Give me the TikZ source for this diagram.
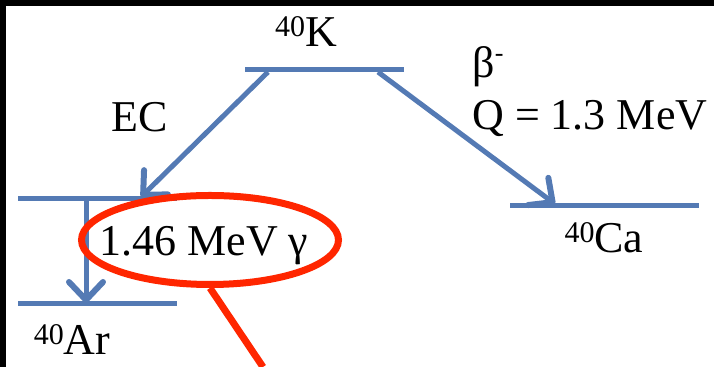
\documentclass[tikz,border=0pt]{standalone}
\usepackage{fontspec}
\setmainfont{Liberation Serif}
\usepackage{tikz}
\usetikzlibrary{positioning, arrows.meta, shapes.geometric}

\definecolor{levelblue}{RGB}{84,122,180}
\definecolor{ringred}{RGB}{255,38,0}

\newcommand{\nuc}[2]{\raisebox{5pt}{\fontsize{15}{15}\selectfont #1}#2}

\begin{document}
\begin{tikzpicture}[
    x=0.5pt, y=-0.5pt,
    level/.style={draw=levelblue, line width=2.5pt},
    trans/.style={draw=levelblue, line width=2.5pt,
                  -{Straight Barb[length=9pt, width=17pt, line width=3pt, round]}},
    lbl/.style={font=\rmfamily\fontsize{22}{26}\selectfont, inner sep=0pt, anchor=base},
    ring/.style={draw=ringred, ellipse, line width=3.5pt, inner sep=0pt,
                 minimum width=128.5pt, minimum height=44.5pt},
    pointer/.style={draw=ringred, line width=3.5pt},
]
\useasboundingbox (0,0) rectangle (714,367);
\fill[black] (0,0) rectangle (714,6);
\fill[black] (0,0) rectangle (6,367);

% --- Levels ---
\coordinate (Kl) at (245,70);   \coordinate (Kr) at (404,70);
\coordinate (Xl) at (18,199);   \coordinate (Xr) at (177,199);
\coordinate (Gl) at (18,304);   \coordinate (Gr) at (177,304);
\coordinate (Cl) at (510,206);  \coordinate (Cr) at (699,206);
\draw[level] (Kl) -- (Kr);
\draw[level] (Xl) -- (Xr);
\draw[level] (Gl) -- (Gr);
\draw[level] (Cl) -- (Cr);

% --- Labels ---
\node[lbl] (k40)  at (306,47)  {\nuc{40}{K}};
\node[lbl] (ar40) at (72,355)  {\nuc{40}{Ar}};
\node[lbl] (ca40) at (604,253) {\nuc{40}{Ca}};
\node[lbl] (ec)   at (140,132) {EC};
\node[lbl, anchor=base west] (beta) at (472,78)
  {β\raisebox{8pt}{\fontsize{13}{13}\selectfont -}};
\node[lbl, anchor=base west] (qval) at (472,130) {Q = 1.3 MeV};
\node[lbl] (gam)  at (204,256) {1.46 MeV γ};

% --- Transitions ---
\coordinate (ecfrom)   at (268,72);
\coordinate (ecto)     at (141,197);
\coordinate (betafrom) at (378,72);
\coordinate (betato)   at (555,204);
\coordinate (gamfrom)  at (86,199);
\coordinate (gamto)    at (86,303);
\draw[trans] (ecfrom) -- (ecto);
\draw[trans] (betafrom) -- (betato);
\draw[trans] (gamfrom) -- (gamto);

% --- Highlight ---
\node[ring] (gring) at (210,240) {};
\coordinate (pend) at (263,367);
\draw[pointer] (gring.south) -- (pend);
\end{tikzpicture}
\end{document}
